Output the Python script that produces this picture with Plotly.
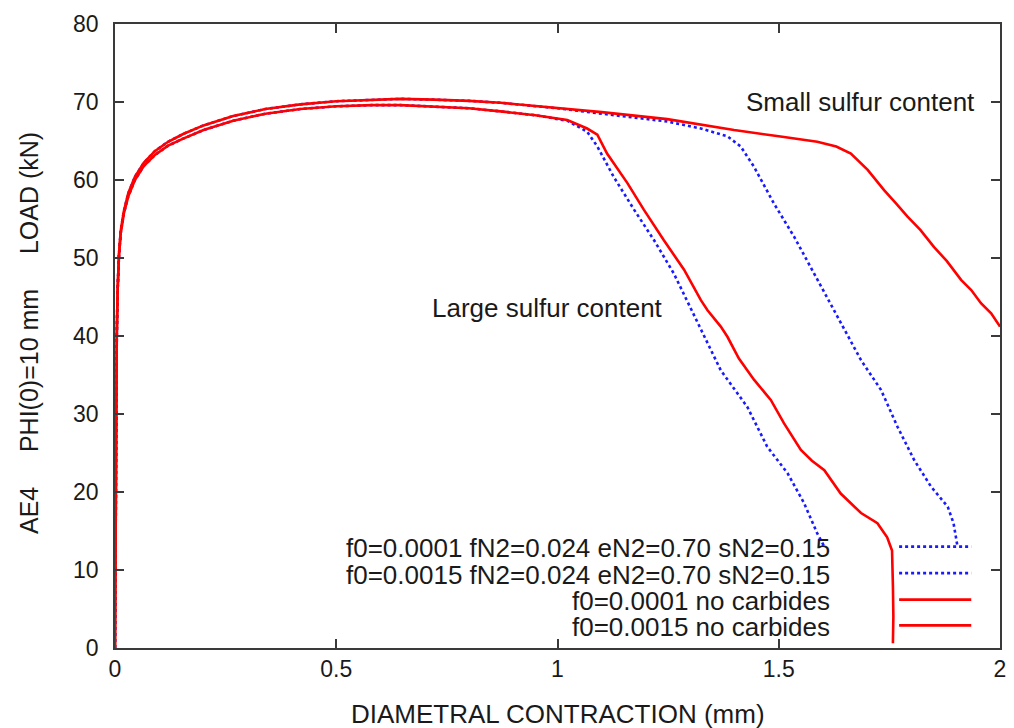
import plotly.graph_objects as go

# ---------------- data ----------------
# shared pre-peak part, small sulfur content (f0=0.0001)
rise_x = [0, 0.001, 0.002, 0.003, 0.004, 0.006, 0.009, 0.013, 0.02, 0.03, 0.045,
          0.065, 0.09, 0.12, 0.154, 0.2, 0.267, 0.34, 0.419, 0.5, 0.58, 0.645,
          0.72, 0.8, 0.871]
rise_small_y = [0, 10, 22, 33, 40, 46, 50.5, 53.5, 56, 58.3, 60.4,
                62.2, 63.7, 64.9, 65.9, 67.0, 68.2, 69.1, 69.7, 70.1, 70.3, 70.4,
                70.3, 70.15, 69.9]
# shared pre-peak part, large sulfur content (f0=0.0015)
rise_large_y = [0, 10, 22, 33, 40, 46, 50.3, 53.2, 55.7, 57.9, 60.0,
                61.8, 63.2, 64.4, 65.3, 66.4, 67.6, 68.5, 69.1, 69.45, 69.6, 69.6,
                69.45, 69.2, 68.8]

# f0=0.0001 fN2=0.024 eN2=0.70 sN2=0.15  (blue dotted, small sulfur)
c1_x = [0.95, 1.0, 1.1, 1.248, 1.324, 1.384, 1.414, 1.444, 1.489, 1.535, 1.58,
        1.625, 1.64, 1.678, 1.686, 1.731, 1.768, 1.806, 1.844, 1.882, 1.895, 1.904]
c1_y = [69.5, 69.2, 68.5, 67.5, 66.6, 65.6, 64.3, 61.7, 57.0, 52.7, 48.0,
        43.3, 41.6, 37.6, 36.9, 33.1, 28.4, 24.1, 20.7, 18.1, 16.0, 13.0]

# f0=0.0015 fN2=0.024 eN2=0.70 sN2=0.15  (blue dotted, large sulfur)
c2_x = [0.95, 1.022, 1.067, 1.09, 1.127, 1.173, 1.218, 1.263, 1.31, 1.354,
        1.369, 1.429, 1.474, 1.52, 1.557, 1.587, 1.603]
c2_y = [68.3, 67.6, 66.2, 64.3, 60.4, 56.2, 52.3, 48.0, 42.5, 37.3,
        35.6, 30.9, 25.8, 22.4, 18.6, 14.7, 13.0]

# f0=0.0001 no carbides  (red solid, small sulfur)
c3_x = [0.95, 1.0, 1.1, 1.248, 1.399, 1.5, 1.587, 1.63, 1.663, 1.701, 1.738,
        1.765, 1.791, 1.82, 1.851, 1.88, 1.912, 1.935, 1.957, 1.98, 2.0]
c3_y = [69.5, 69.3, 68.7, 67.8, 66.4, 65.6, 64.9, 64.3, 63.4, 61.3, 58.7,
        57.0, 55.3, 53.6, 51.4, 49.6, 47.2, 45.9, 44.2, 42.9, 41.2]

# f0=0.0015 no carbides  (red solid, large sulfur)
c4_x = [0.95, 1.022, 1.067, 1.09, 1.112, 1.158, 1.195, 1.24, 1.286, 1.324,
        1.339, 1.369, 1.384, 1.41, 1.444, 1.482, 1.512, 1.55, 1.575, 1.603,
        1.64, 1.686, 1.723, 1.745, 1.756, 1.758, 1.759, 1.758]
c4_y = [68.3, 67.7, 66.6, 65.8, 63.4, 59.6, 56.2, 52.3, 48.5, 44.6,
        43.3, 41.2, 39.9, 37.1, 34.4, 31.8, 28.8, 25.4, 24.0, 22.8,
        19.8, 17.3, 16.0, 14.2, 12.5, 8.0, 4.0, 0.6]

legend_labels = [
    "f0=0.0001 fN2=0.024 eN2=0.70 sN2=0.15",
    "f0=0.0015 fN2=0.024 eN2=0.70 sN2=0.15",
    "f0=0.0001 no carbides",
    "f0=0.0015 no carbides",
]
x_title = "DIAMETRAL CONTRACTION (mm)"
sp = "\u00a0" * 5
y_title = "AE4" + sp + "PHI(0)=10 mm" + sp + "LOAD (kN)"
x_ticks = [0, 0.5, 1, 1.5, 2]
x_tick_text = ["0", "0.5", "1", "1.5", "2"]
y_ticks = [0, 10, 20, 30, 40, 50, 60, 70, 80]

# ---------------- styling ----------------
BLUE = "#1a1aff"
RED = "#ff0000"
FONT = "Liberation Sans, Arial, sans-serif"
TXT = "#1a1a1a"
AX = "#3a3a3a"

series = [
    (rise_x + c1_x, rise_small_y + c1_y, BLUE, "dot"),
    (rise_x + c2_x, rise_large_y + c2_y, BLUE, "dot"),
    (rise_x + c3_x, rise_small_y + c3_y, RED, "solid"),
    (rise_x + c4_x, rise_large_y + c4_y, RED, "solid"),
]

fig = go.Figure()
for (xs, ys, col, dash), name in zip(series, legend_labels):
    fig.add_trace(go.Scatter(x=xs, y=ys, mode="lines", name=name,
                             line=dict(color=col, width=2.6, dash=dash),
                             showlegend=False, hoverinfo="skip"))

# gnuplot-style key: text right-aligned, sample to the right
key_text_x = 1.62
key_line_x0, key_line_x1 = 1.772, 1.935
key_rows_y = [13.0, 9.6, 6.2, 2.9]
for (xs, ys, col, dash), label, ky in zip(series, legend_labels, key_rows_y):
    fig.add_annotation(x=key_text_x, y=ky - 0.2, xref="x", yref="y", text=label,
                       showarrow=False, xanchor="right", yanchor="middle",
                       font=dict(family=FONT, size=26, color=TXT))
    fig.add_shape(type="line", xref="x", yref="y", x0=key_line_x0, x1=key_line_x1,
                  y0=ky, y1=ky, line=dict(color=col, width=2.6, dash=dash))

fig.add_annotation(x=1.684, y=70, text="Small sulfur content", showarrow=False,
                   xanchor="center", yanchor="middle",
                   font=dict(family=FONT, size=26, color=TXT))
fig.add_annotation(x=0.978, y=43.6, text="Large sulfur content", showarrow=False,
                   xanchor="center", yanchor="middle",
                   font=dict(family=FONT, size=26, color=TXT))

# axis titles as paper-anchored text
fig.add_annotation(x=0.5, y=-0.106, xref="paper", yref="paper", text=x_title,
                   showarrow=False, xanchor="center", yanchor="middle",
                   font=dict(family=FONT, size=26, color=TXT))
fig.add_annotation(x=-0.097, y=0.505, xref="paper", yref="paper", text=y_title,
                   showarrow=False, xanchor="center", yanchor="middle", textangle=-90,
                   font=dict(family=FONT, size=25, color=TXT))

fig.update_layout(
    width=1014, height=728,
    margin=dict(l=115, r=14, t=24, b=80, autoexpand=False),
    paper_bgcolor="white", plot_bgcolor="white",
    font=dict(family=FONT, color=TXT),
    showlegend=False,
    xaxis=dict(range=[0, 2], tickvals=x_ticks, ticktext=x_tick_text,
               ticks="inside", ticklen=9, tickwidth=1.5, tickcolor=AX,
               showline=True, linecolor=AX, linewidth=1.5, mirror="ticks",
               showgrid=False, zeroline=False, automargin=False,
               tickfont=dict(family=FONT, size=23, color=TXT)),
    yaxis=dict(range=[0, 80], tickvals=y_ticks,
               ticks="inside", ticklen=9, tickwidth=1.5, tickcolor=AX,
               showline=True, linecolor=AX, linewidth=1.5, mirror="ticks",
               showgrid=False, zeroline=False, ticklabelstandoff=10, automargin=False,
               tickfont=dict(family=FONT, size=23, color=TXT)),
)

fig.write_html("out.html")
